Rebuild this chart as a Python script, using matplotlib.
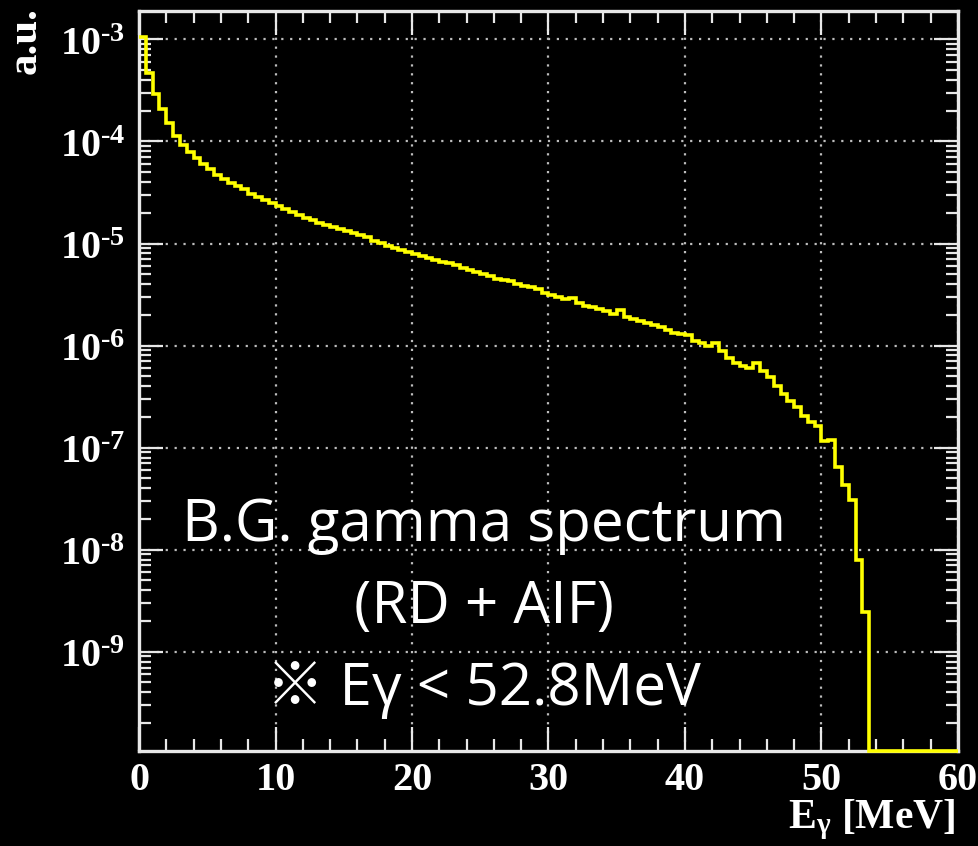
import numpy as np
import matplotlib.pyplot as plt
from matplotlib.ticker import LogLocator, MultipleLocator, FuncFormatter, NullFormatter

plt.rcParams['mathtext.fontset'] = 'custom'
plt.rcParams['mathtext.rm'] = 'Liberation Serif:bold'
plt.rcParams['mathtext.it'] = 'Liberation Serif:bold:italic'
plt.rcParams['mathtext.bf'] = 'Liberation Serif:bold'

# histogram: 0.5 MeV bins from 0 to 60 MeV, values in a.u.
bin_width = 0.5
e_min, e_max = 0.0, 60.0
filled_bins = [
    1.05e-3, 4.68e-4, 2.95e-4, 2.09e-4, 1.51e-4, 1.12e-4, 9.33e-5, 7.94e-5, 6.92e-5, 6.03e-5,
    5.37e-5, 4.68e-5, 4.27e-5, 3.89e-5, 3.63e-5, 3.39e-5, 3.09e-5, 2.88e-5, 2.69e-5, 2.51e-5,
    2.34e-5, 2.19e-5, 2.04e-5, 1.91e-5, 1.78e-5, 1.70e-5, 1.58e-5, 1.51e-5, 1.45e-5, 1.38e-5,
    1.32e-5, 1.26e-5, 1.20e-5, 1.15e-5, 1.07e-5, 1.02e-5, 9.55e-6, 9.12e-6, 8.71e-6, 8.32e-6,
    7.94e-6, 7.59e-6, 7.24e-6, 6.92e-6, 6.61e-6, 6.46e-6, 6.17e-6, 5.75e-6, 5.50e-6, 5.25e-6,
    5.01e-6, 4.79e-6, 4.47e-6, 4.37e-6, 4.27e-6, 3.98e-6, 3.80e-6, 3.72e-6, 3.55e-6, 3.31e-6,
    3.16e-6, 3.02e-6, 2.88e-6, 2.95e-6, 2.63e-6, 2.45e-6, 2.40e-6, 2.29e-6, 2.19e-6, 2.04e-6,
    2.24e-6, 1.91e-6, 1.82e-6, 1.74e-6, 1.66e-6, 1.58e-6, 1.51e-6, 1.41e-6, 1.32e-6, 1.29e-6,
    1.26e-6, 1.10e-6, 1.05e-6, 1.00e-6, 1.05e-6, 8.91e-7, 7.59e-7, 6.76e-7, 6.31e-7, 6.03e-7,
    6.76e-7, 5.62e-7, 4.90e-7, 3.98e-7, 3.39e-7, 2.88e-7, 2.51e-7, 2.04e-7, 1.78e-7, 1.62e-7,
    1.17e-7, 1.20e-7, 6.46e-8, 4.27e-8, 3.09e-8, 7.94e-9, 2.45e-9,
]
y_min, y_max = 1.07e-10, 1.9e-3
y_decades = [1e-9, 1e-8, 1e-7, 1e-6, 1e-5, 1e-4, 1e-3]

text_lines = ["B.G. gamma spectrum", "(RD + AIF)", "※ Eγ < 52.8MeV"]

edges = np.arange(e_min, e_max + bin_width / 2, bin_width)
spectrum = np.zeros(len(edges) - 1)
spectrum[:len(filled_bins)] = filled_bins
# empty bins sit on the bottom of the frame, as ROOT draws them
drawn = np.where(spectrum > 0, spectrum, y_min)

fg = '#e8e8e8'
fig = plt.figure(figsize=(9.79, 8.46), dpi=100, facecolor='black')
ax = fig.add_axes([0.142, 0.1126, 0.8365, 0.8744])
ax.set_facecolor('black')

ax.stairs(drawn, edges, baseline=None, color='#ffff00', lw=2.6, zorder=3, clip_on=False)

ax.set_yscale('log')
ax.set_xlim(e_min, e_max)
ax.set_ylim(y_min, y_max)

ax.xaxis.set_major_locator(MultipleLocator(10))
ax.xaxis.set_minor_locator(MultipleLocator(2))
ax.set_yticks(y_decades)
ax.yaxis.set_minor_locator(LogLocator(base=10, subs=np.arange(2, 10), numticks=20))
ax.yaxis.set_minor_formatter(NullFormatter())
ax.yaxis.set_major_formatter(FuncFormatter(
    lambda v, p: r"$\mathbf{10^{\text{-}%d}}$" % abs(int(round(np.log10(v))))))
ax.xaxis.set_major_formatter(FuncFormatter(lambda v, p: "%d" % v))
ax.set_ylim(y_min, y_max)

ax.tick_params(which='both', direction='in', top=True, right=True, colors=fg,
               width=1.6)
ax.tick_params(which='major', length=17, pad=10, labelsize=29)
ax.tick_params(axis='x', which='major', pad=8)
ax.tick_params(which='minor', length=8.5)
for lab in ax.get_xticklabels():
    lab.set_fontfamily('Liberation Serif')
    lab.set_fontweight('bold')
    lab.set_color('white')
for lab in ax.get_yticklabels():
    lab.set_color('white')

for sp in ax.spines.values():
    sp.set_color(fg)
    sp.set_linewidth(2.4)
    sp.set_zorder(2.5)

ax.grid(True, which='major', color='#bdbdbd', linestyle=(0, (1, 3)), linewidth=1.6)

fig.text(0.026, 0.992, "a.u.", rotation=90, ha='center', va='top', color='white',
         fontsize=31, fontfamily='Liberation Serif', fontweight='bold')
fig.text(0.976, 0.005, r"$\mathrm{E_{\gamma}}$ [MeV]", ha='right', va='bottom',
         color='white', fontsize=30, fontfamily='Liberation Serif', fontweight='bold')

for i, line in enumerate(text_lines):
    fig.text(0.494, 0.379 - i * 0.097, line, ha='center', va='center', color='white',
             fontsize=42, family=['Open Sans', 'Noto Sans CJK JP', 'DejaVu Sans'],
             fontweight='normal')

fig.savefig('out.png', dpi=100, facecolor='black')
